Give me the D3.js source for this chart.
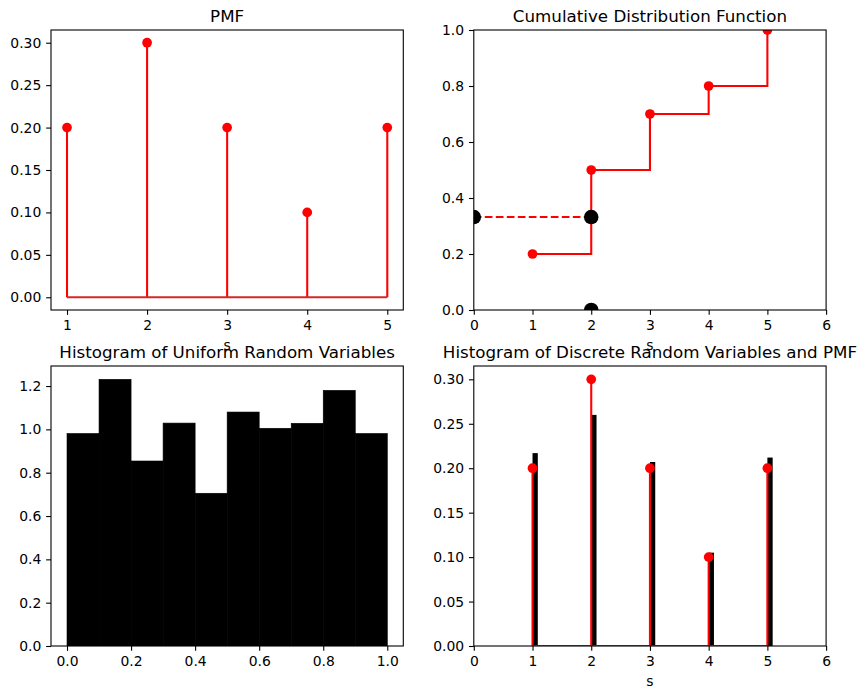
<!DOCTYPE html>
<html>
<head>
<meta charset="utf-8">
<script src="https://cdn.jsdelivr.net/npm/d3@7"></script>
<style>
  body { margin: 0; background: #fff; }
  svg text { font-family: "DejaVu Sans", sans-serif; fill: #000; }
</style>
</head>
<body>
<div class="background"></div>
<script>
// values
var sValues = [1, 2, 3, 4, 5];
var pmfValues = [0.2, 0.3, 0.2, 0.1, 0.2];
var cdfValues = [0.2, 0.5, 0.7, 0.8, 1.0];
var uniformDraw = 0.332;     // u drawn for the inverse-CDF lookup
var sampledS = 2;            // s picked by u
var uniformBinEdges = [0, 0.1, 0.2, 0.3, 0.4, 0.5, 0.6, 0.7, 0.8, 0.9, 1.0];
var uniformDensity = [0.981, 1.231, 0.854, 1.029, 0.705, 1.080, 1.005, 1.028, 1.180, 0.981];
var discreteFreq = [0.217, 0.260, 0.207, 0.105, 0.212];
var discreteBinWidth = 0.09;

var pmfYTicks = [0, 0.05, 0.10, 0.15, 0.20, 0.25, 0.30];
var cdfXTicks = [0, 1, 2, 3, 4, 5, 6];
var cdfYTicks = [0, 0.2, 0.4, 0.6, 0.8, 1.0];
var uniXTicks = [0, 0.2, 0.4, 0.6, 0.8, 1.0];
var uniYTicks = [0, 0.2, 0.4, 0.6, 0.8, 1.0, 1.2];

var W = 866, H = 699;
var tickLen = 4.86, tickPad = 4.86;
var lw = 2.08;          // 1.5pt lines
var markR = 4.86;       // 6pt markers + edge
var bigR = 7.3;         // big black markers
var RED = "#ff0000", C3 = "#d62728";

var svg = d3.select("div.background").append("svg")
    .attr("width", W).attr("height", H);
var defs = svg.append("defs");

//make one subplot: returns scales and layers
function makeAxes(id, x0, y0, w, h, xdom, ydom) {
    var x = d3.scaleLinear().domain(xdom).range([x0, x0 + w]);
    var y = d3.scaleLinear().domain(ydom).range([y0 + h, y0]);
    defs.append("clipPath").attr("id", "clip" + id)
        .append("rect").attr("x", x0).attr("y", y0).attr("width", w).attr("height", h);
    var g = svg.append("g");
    var plot = g.append("g").attr("clip-path", "url(#clip" + id + ")");
    return {x: x, y: y, g: g, plot: plot, x0: x0, y0: y0, w: w, h: h};
}

function finishAxes(ax, xticks, yticks, fx, fy, title, xlabel) {
    var xa = ax.g.append("g").attr("transform", "translate(0," + (ax.y0 + ax.h) + ")")
        .call(d3.axisBottom(ax.x).tickValues(xticks).tickFormat(fx)
              .tickSize(tickLen).tickPadding(tickPad));
    var ya = ax.g.append("g").attr("transform", "translate(" + ax.x0 + ",0)")
        .call(d3.axisLeft(ax.y).tickValues(yticks).tickFormat(fy)
              .tickSize(tickLen).tickPadding(tickPad));
    [xa, ya].forEach(function(a) {
        a.select(".domain").remove();
        a.selectAll("line").attr("stroke", "#000").attr("stroke-width", 1.1);
        a.selectAll("text").style("font-size", "13.9px")
            .style("font-family", "DejaVu Sans").attr("fill", "#000");
    });
    xa.selectAll("text").attr("dy", "0.76em");
    //spines on top
    ax.g.append("rect").attr("x", ax.x0).attr("y", ax.y0)
        .attr("width", ax.w).attr("height", ax.h)
        .attr("fill", "none").attr("stroke", "#000").attr("stroke-width", 1.1);
    ax.g.append("text").attr("x", ax.x0 + ax.w / 2).attr("y", ax.y0 - 8.3)
        .attr("text-anchor", "middle").style("font-size", "16.7px").text(title);
    if (xlabel) {
        ax.g.append("text").attr("x", ax.x0 + ax.w / 2).attr("y", ax.y0 + ax.h + 40)
            .attr("text-anchor", "middle").style("font-size", "13.9px").text(xlabel);
    }
}

//stem plot helper (stems, baseline, markers)
function stems(ax, xs, ys) {
    ax.plot.selectAll(null).data(xs).enter().append("line")
        .attr("x1", function(d) { return ax.x(d); })
        .attr("x2", function(d) { return ax.x(d); })
        .attr("y1", ax.y(0))
        .attr("y2", function(d, i) { return ax.y(ys[i]); })
        .attr("stroke", RED).attr("stroke-width", lw);
    ax.plot.append("line")
        .attr("x1", ax.x(d3.min(xs))).attr("x2", ax.x(d3.max(xs)))
        .attr("y1", ax.y(0)).attr("y2", ax.y(0))
        .attr("stroke", C3).attr("stroke-width", lw);
    ax.plot.selectAll(null).data(xs).enter().append("circle")
        .attr("cx", function(d) { return ax.x(d); })
        .attr("cy", function(d, i) { return ax.y(ys[i]); })
        .attr("r", markR).attr("fill", RED);
}

var colL = 51, colR = 473.8, aw = 352.3, ah = 280;
var rowT = 30, rowB = 366;

// ---- PMF
var a1 = makeAxes(1, colL, rowT, aw, ah, [0.8, 5.2], [-0.015, 0.315]);
stems(a1, sValues, pmfValues);
finishAxes(a1, sValues, pmfYTicks, d3.format("d"), d3.format(".2f"), "PMF", "s");

// ---- CDF
var a2 = makeAxes(2, colR, rowT, aw, ah, [0, 6], [0, 1]);
var stepLine = d3.line().curve(d3.curveStepAfter)
    .x(function(d) { return a2.x(d[0]); }).y(function(d) { return a2.y(d[1]); });
a2.plot.append("path").datum(d3.zip(sValues, cdfValues))
    .attr("d", stepLine).attr("fill", "none")
    .attr("stroke", RED).attr("stroke-width", lw);
a2.plot.selectAll(null).data(sValues).enter().append("circle")
    .attr("cx", function(d) { return a2.x(d); })
    .attr("cy", function(d, i) { return a2.y(cdfValues[i]); })
    .attr("r", markR).attr("fill", RED);
a2.plot.append("line")
    .attr("x1", a2.x(0)).attr("x2", a2.x(sampledS))
    .attr("y1", a2.y(uniformDraw)).attr("y2", a2.y(uniformDraw))
    .attr("stroke", RED).attr("stroke-width", lw).attr("stroke-dasharray", "7.7,3.3");
a2.plot.selectAll(null).data([[0, uniformDraw], [sampledS, uniformDraw], [sampledS, 0]])
    .enter().append("circle")
    .attr("cx", function(d) { return a2.x(d[0]); })
    .attr("cy", function(d) { return a2.y(d[1]); })
    .attr("r", bigR).attr("fill", "#000");
finishAxes(a2, cdfXTicks, cdfYTicks, d3.format("d"), d3.format(".1f"),
           "Cumulative Distribution Function", "s");

// ---- histogram of uniform draws
var a3 = makeAxes(3, colL, rowB, aw, ah, [-0.05, 1.05], [0, d3.max(uniformDensity) * 1.05]);
a3.plot.selectAll(null).data(uniformDensity).enter().append("rect")
    .attr("x", function(d, i) { return a3.x(uniformBinEdges[i]); })
    .attr("width", function(d, i) { return a3.x(uniformBinEdges[i + 1]) - a3.x(uniformBinEdges[i]); })
    .attr("y", function(d) { return a3.y(d); })
    .attr("height", function(d) { return a3.y(0) - a3.y(d); })
    .attr("fill", "#000").attr("stroke", "#000").attr("stroke-width", 0.6);
finishAxes(a3, uniXTicks, uniYTicks, d3.format(".1f"), d3.format(".1f"),
           "Histogram of Uniform Random Variables", null);

// ---- histogram of discrete draws with pmf
var a4 = makeAxes(4, colR, rowB, aw, ah, [0, 6], [0, 0.315]);
a4.plot.selectAll(null).data(discreteFreq).enter().append("rect")
    .attr("x", function(d, i) { return a4.x(sValues[i]); })
    .attr("width", a4.x(discreteBinWidth) - a4.x(0))
    .attr("y", function(d) { return a4.y(d); })
    .attr("height", function(d) { return a4.y(0) - a4.y(d); })
    .attr("fill", "#000");
stems(a4, sValues, pmfValues);
finishAxes(a4, cdfXTicks, pmfYTicks, d3.format("d"), d3.format(".2f"),
           "Histogram of Discrete Random Variables and PMF", "s");
</script>
</body>
</html>
